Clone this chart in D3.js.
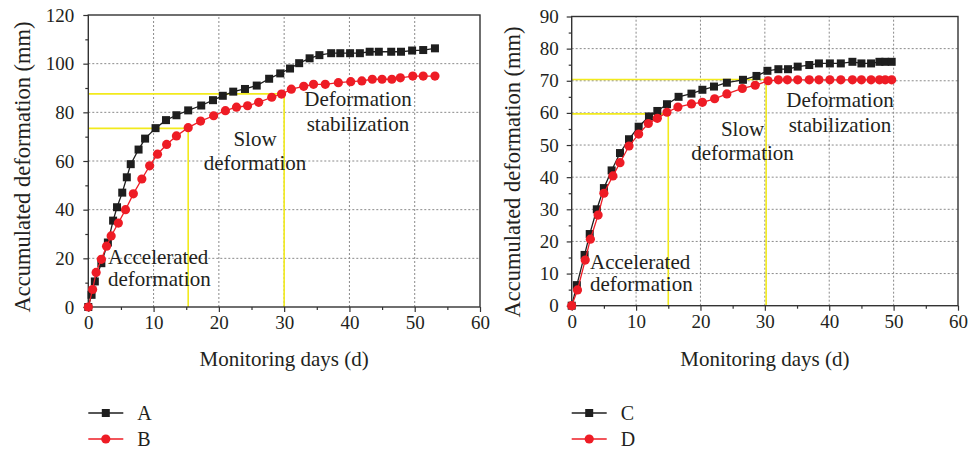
<!DOCTYPE html>
<html>
<head>
<meta charset="utf-8">
<script src="https://cdn.jsdelivr.net/npm/d3@7"></script>
<style>
  body { margin: 0; background: #fff; }
  svg text { font-family: "Liberation Serif", "Times New Roman", serif; fill: #231f20; }
</style>
</head>
<body>
<div id="chart"></div>
<script>
// series data (days, mm)
const daysA = [0,0.5,1,2,3,3.8,4.4,5.2,5.9,6.5,7.7,8.7,10.3,11.9,13.5,15.3,17.3,19.1,20.6,22.2,24,25.8,27.7,29.4,30.9,32.3,33.9,35.4,37.2,38.6,40.1,41.6,43.1,44.5,46.4,47.9,49.6,51.3,53.1];
const defA  = [0,5,10.5,18,26.5,35.5,41,47,53.3,58.7,64.7,69.2,73.5,76.8,78.8,80.8,82.8,85,86.8,88.5,89.6,91,93.8,96,98,100.2,102.2,103.5,104.3,104.3,104.3,104.3,104.9,104.9,104.9,104.9,105.4,105.6,106.3];
const daysB = [0,0.66,1.2,2,2.8,3.5,4.6,5.7,6.9,8.2,9.4,10.6,12,13.5,15.3,17.2,19.2,21,22.7,24.4,26.1,28.1,29.6,31.1,33,34.5,36.3,38.3,40.2,41.9,43.5,45,46.5,47.8,49.7,51.3,53.1];
const defB  = [0,7.2,14.2,19.6,25,29.2,34.5,40,46.5,52.6,58,62.8,66.8,70.3,73.7,76.4,78.6,80.7,82.1,82.7,84.1,86.2,87.5,89.5,90.7,91.5,91.5,92.2,92.6,92.9,93.6,93.6,93.6,94.2,94.9,94.9,94.9];
const daysC = [0,0.8,2,2.8,3.9,5,6.2,7.5,8.9,10.4,12,13.3,14.8,16.6,18.6,20.3,22.1,24.1,26.6,28.7,30.4,32.1,33.6,35.1,36.9,38.4,40.1,41.8,43.6,45,46.5,47.8,48.7,49.7];
const defC  = [0,6.4,15.8,22.3,30,36.6,42.1,47.5,51.8,55.7,58.9,60.6,62.7,65,66,67.2,68.2,69.4,70.3,71.5,73.1,73.6,73.6,74.4,74.9,75.4,75.4,75.4,75.9,75.4,75.4,75.9,75.9,75.9];
const daysD = [0,0.9,2.1,2.9,4.1,5,6.4,7.5,8.9,10.4,11.9,13.3,14.8,16.5,18.6,20.3,22.2,24.1,26.5,28.5,30.5,32.1,33.5,35.1,36.9,38.4,40.1,41.8,43.6,45,46.5,47.8,48.7,49.7];
const defD  = [0,4.9,14.2,20.7,28.2,35,40.4,44.5,49.7,53.4,56.7,58.3,60.2,61.8,62.8,63.3,64.4,65.9,67.6,68.6,70,70.3,70.3,70.3,70.3,70.3,70.3,70.3,70.3,70.3,70.3,70.3,70.3,70.3];

// tick values
const xTicks = [0,10,20,30,40,50,60];
const yTicksLeft = [0,20,40,60,80,100,120];
const yTicksRight = [0,10,20,30,40,50,60,70,80,90];

// stage boundaries (yellow guides): [day, mm]
const guidesLeft = [[15.3,73.4],[30,87.6]];
const guidesRight = [[15,59.7],[30.2,70.4]];

// stage labels
const stageNames = [["Accelerated","deformation"],["Slow","deformation"],["Deformation","stabilization"]];

const black = "#1e1e1e", red = "#ee1c25", yellow = "#f2ea1d", gridColor = "#8a8a8a";

const W = 969, H = 449;
const svg = d3.select("#chart").append("svg")
    .attr("width", W)
    .attr("height", H);

function drawPanel(p) {
  const x = d3.scaleLinear().domain([0,60]).range([p.left, p.right]);
  const y = d3.scaleLinear().domain([0, p.yMax]).range([p.bottom, p.top]);
  const g = svg.append("g");

  // grid
  g.selectAll(".gx").data(xTicks.slice(1, -1)).join("line")
      .attr("x1", d => x(d)).attr("x2", d => x(d))
      .attr("y1", p.bottom).attr("y2", p.top)
      .attr("stroke", gridColor).attr("stroke-width", 1).attr("stroke-dasharray", "2,2");
  g.selectAll(".gy").data(p.yTicks.slice(1, -1)).join("line")
      .attr("x1", p.left).attr("x2", p.right)
      .attr("y1", d => y(d)).attr("y2", d => y(d))
      .attr("stroke", gridColor).attr("stroke-width", 1).attr("stroke-dasharray", "2,2");

  // yellow guides
  p.guides.forEach(([d, v]) => {
    g.append("path")
      .attr("d", `M${x(0)},${y(v)}H${x(d)}V${y(0)}`)
      .attr("fill", "none").attr("stroke", yellow).attr("stroke-width", 1.6);
  });

  // axes
  const xAxis = d3.axisBottom(x).tickValues(xTicks).tickSize(5).tickPadding(4);
  const xMinor = d3.axisBottom(x).tickValues(d3.range(5, 60, 10)).tickSize(3).tickFormat("");
  const yAxis = d3.axisLeft(y).tickValues(p.yTicks).tickSize(5).tickPadding(p.yPad);
  const yMinor = d3.axisLeft(y).tickValues(d3.range(p.yStep / 2, p.yMax, p.yStep)).tickSize(3).tickFormat("");

  [[xAxis, `translate(0,${p.bottom})`], [xMinor, `translate(0,${p.bottom})`],
   [yAxis, `translate(${p.left},0)`], [yMinor, `translate(${p.left},0)`]].forEach(([ax, tr]) => {
    const a = g.append("g").attr("transform", tr).call(ax);
    a.select(".domain").remove();
    a.selectAll("line").attr("stroke", "#333").attr("stroke-width", 1.2);
    a.selectAll("text").attr("font-size", 19).attr("font-family", "Liberation Serif").attr("fill", "#231f20");
  });

  // frame
  g.append("rect")
    .attr("x", p.left).attr("y", p.top)
    .attr("width", p.right - p.left).attr("height", p.bottom - p.top)
    .attr("fill", "none").attr("stroke", "#333").attr("stroke-width", 1.4);

  // series
  const line = d3.line().x(d => x(d[0])).y(d => y(d[1]));
  p.series.forEach(s => {
    const pts = s.days.map((d, i) => [d, s.vals[i]]);
    g.append("path").datum(pts)
      .attr("d", line).attr("fill", "none")
      .attr("stroke", s.color).attr("stroke-width", 1.3);
    if (s.shape === "square") {
      g.selectAll(null).data(pts).join("rect")
        .attr("x", d => x(d[0]) - 4).attr("y", d => y(d[1]) - 4)
        .attr("width", 8).attr("height", 8).attr("fill", s.color);
    } else {
      g.selectAll(null).data(pts).join("circle")
        .attr("cx", d => x(d[0])).attr("cy", d => y(d[1]))
        .attr("r", 4.6).attr("fill", s.color);
    }
  });

  // stage labels, one text per line
  p.stagePos.forEach((pos, i) => {
    stageNames[i].forEach((s, j) => {
      g.append("text")
        .attr("x", pos.x).attr("y", pos.y + j * pos.dy)
        .attr("font-size", 21)
        .attr("text-anchor", pos.anchor)
        .text(s);
    });
  });

  // axis titles
  g.append("text")
    .attr("x", (p.left + p.right) / 2).attr("y", 366)
    .attr("text-anchor", "middle").attr("font-size", 21)
    .text("Monitoring days (d)");
  g.append("text")
    .attr("transform", `translate(${p.yLabelX},${p.yLabelY}) rotate(-90)`)
    .attr("text-anchor", "middle").attr("font-size", 22.5)
    .text("Accumulated deformation (mm)");

  // legend
  p.series.forEach((s, i) => {
    const ly = 413 + i * 26;
    const lx = p.left;
    g.append("line")
      .attr("x1", lx).attr("x2", lx + 35).attr("y1", ly).attr("y2", ly)
      .attr("stroke", s.color).attr("stroke-width", 1.3);
    if (s.shape === "square") {
      g.append("rect").attr("x", lx + 17.5 - 4).attr("y", ly - 4)
        .attr("width", 8).attr("height", 8).attr("fill", s.color);
    } else {
      g.append("circle").attr("cx", lx + 17.5).attr("cy", ly).attr("r", 4.6).attr("fill", s.color);
    }
    g.append("text")
      .attr("x", lx + 49).attr("y", ly + 7)
      .attr("font-size", 20)
      .text(s.name);
  });
}

drawPanel({
  left: 88.3, right: 480, top: 15, bottom: 307,
  yMax: 120, yStep: 20, yTicks: yTicksLeft, yPad: 9,
  guides: guidesLeft,
  yLabelX: 29.5, yLabelY: 167,
  stagePos: [
    {x: 108, y: 264, dy: 22, anchor: "start"},
    {x: 255, y: 146, dy: 24, anchor: "middle"},
    {x: 358, y: 106, dy: 24.5, anchor: "middle"}
  ],
  series: [
    {name: "A", days: daysA, vals: defA, color: black, shape: "square"},
    {name: "B", days: daysB, vals: defB, color: red, shape: "circle"}
  ]
});

drawPanel({
  left: 571.7, right: 958, top: 16.5, bottom: 305.7,
  yMax: 90, yStep: 10, yTicks: yTicksRight, yPad: 8,
  guides: guidesRight,
  yLabelX: 520, yLabelY: 172,
  stagePos: [
    {x: 590, y: 269, dy: 22, anchor: "start"},
    {x: 742.5, y: 136, dy: 24, anchor: "middle"},
    {x: 840, y: 107, dy: 25, anchor: "middle"}
  ],
  series: [
    {name: "C", days: daysC, vals: defC, color: black, shape: "square"},
    {name: "D", days: daysD, vals: defD, color: red, shape: "circle"}
  ]
});
</script>
</body>
</html>
